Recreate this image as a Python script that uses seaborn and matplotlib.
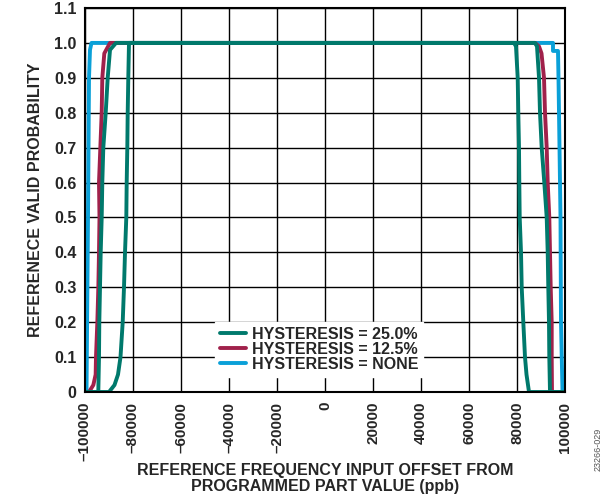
import numpy as np
import pandas as pd
import matplotlib
matplotlib.use("Agg")
import matplotlib.pyplot as plt
import seaborn as sns

# ---- data (offset in ppb, probability) ----
teal_up_x = [-100000, -90000, -87710, -86250, -85210, -84290, -83750, -83330,
             -82790, -82630, -82370, -82210, -81960, -81670,
             87500, 88330, 89170, 89580, 90290, 91375, 92375, 92790, 93040,
             93330, 93460, 93750, 100000]
teal_up_y = [0, 0, 0.02, 0.05, 0.1, 0.2, 0.3, 0.4, 0.5, 0.6, 0.7, 0.8, 0.9, 1.0,
             1.0, 0.99, 0.9, 0.8, 0.7, 0.6, 0.5, 0.4, 0.3, 0.2, 0.1, 0, 0]

teal_down_x = [100000, 85000, 83960, 83330, 82630, 81960, 81670, 81125, 80960,
               80830, 80540, 80290, 79580, 78750,
               -87080, -89580, -90540, -91370, -92370, -92790, -93040, -93460,
               -93750, -94040, -94170, -94460, -100000]
teal_down_y = [0, 0, 0.05, 0.1, 0.2, 0.3, 0.4, 0.5, 0.6, 0.7, 0.8, 0.9, 0.99, 1.0,
               1.0, 0.98, 0.9, 0.8, 0.7, 0.6, 0.5, 0.4, 0.3, 0.2, 0.1, 0, 0]

red_x = [-100000, -98330, -96530, -95560, -95420, -94860, -94440, -94170,
         -93960, -94170, -93610, -93040, -92790, -91950, -89580,
         87500, 89170, 90210, 91250, 91670, 92375, 92790, 93460, 93750,
         94040, 94460, 94460, 94580, 100000]
red_y = [0, 0, 0.02, 0.05, 0.1, 0.2, 0.3, 0.4, 0.5, 0.6, 0.7, 0.8, 0.9, 0.97, 1.0,
         1.0, 0.99, 0.97, 0.9, 0.8, 0.7, 0.6, 0.5, 0.4, 0.3, 0.2, 0.1, 0, 0]

blue_x = [-100000, -99375, -98750, -98330, -97920, -97290,
          95000, 95000, 97080, 97290, 97710, 98125, 98330, 98960, 100000]
blue_y = [0, 0, 0.5, 0.9, 0.98, 1.0,
          1.0, 0.977, 0.977, 0.9, 0.7, 0.5, 0.2, 0, 0]

labels = ["HYSTERESIS = 25.0%", "HYSTERESIS = 12.5%", "HYSTERESIS = NONE"]
colors = ["#00796C", "#A0214B", "#0AA0D8"]

x_ticks = list(range(-100000, 100001, 20000))
y_ticks = [0, 0.1, 0.2, 0.3, 0.4, 0.5, 0.6, 0.7, 0.8, 0.9, 1.0, 1.1]
y_ticklabels = ["0", "0.1", "0.2", "0.3", "0.4", "0.5", "0.6", "0.7", "0.8",
                "0.9", "1.0", "1.1"]

# ---- one long table, one unit per sweep ----
frames = [
    pd.DataFrame({"x": blue_x, "y": blue_y, "series": labels[2], "unit": "blue"}),
    pd.DataFrame({"x": red_x, "y": red_y, "series": labels[1], "unit": "red"}),
    pd.DataFrame({"x": teal_up_x, "y": teal_up_y, "series": labels[0], "unit": "teal_up"}),
    pd.DataFrame({"x": teal_down_x, "y": teal_down_y, "series": labels[0], "unit": "teal_down"}),
]
df = pd.concat(frames, ignore_index=True)

sns.set_style("white")
plt.rcParams["font.family"] = ["Liberation Sans", "DejaVu Sans"]
plt.rcParams["font.weight"] = "bold"

fig = plt.figure(figsize=(6.13, 5.01), dpi=100)
ax = fig.add_axes([85 / 613, 1 - 392 / 501, 480 / 613, 384 / 501])

# draw blue first, teal last so teal sits on top
for lab, col in [(labels[2], colors[2]), (labels[1], colors[1]), (labels[0], colors[0])]:
    sub = df[df["series"] == lab]
    sns.lineplot(data=sub, x="x", y="y", units="unit", estimator=None, sort=False,
                 color=col, linewidth=2.8, ax=ax, legend=False)

ax.set_xlim(-100000, 100000)
ax.set_ylim(0, 1.1)
ax.set_xticks(x_ticks)
ax.set_xticklabels([str(v).replace("-", "\u2013") for v in x_ticks],
                   rotation=90, va="top", ha="center", fontsize=11, fontweight="bold")
ax.set_yticks(y_ticks)
ax.set_yticklabels(y_ticklabels, fontsize=11.5, fontweight="bold")
ax.tick_params(length=0, pad=6)
ax.tick_params(axis="x", pad=7)

ax.grid(True, color="black", linewidth=1.0)
ax.set_axisbelow(True)
for s in ax.spines.values():
    s.set_color("black")
    s.set_linewidth(1.5)

ax.set_xlabel("REFERENCE FREQUENCY INPUT OFFSET FROM\nPROGRAMMED PART VALUE (ppb)",
              fontsize=11.5, fontweight="bold", linespacing=1.1, labelpad=1)
ax.set_ylabel("REFERENECE VALID PROBABILITY", fontsize=11.5, fontweight="bold",
              labelpad=8)

handles = [plt.Line2D([], [], color=c, linewidth=2.8) for c in colors]
leg = ax.legend(handles, labels, loc="lower center", bbox_to_anchor=(0.4885, 0.04),
                frameon=True, fancybox=False, framealpha=1, edgecolor="white",
                fontsize=11.5, handlelength=1.6, handletextpad=0.4,
                labelspacing=0.0, borderpad=0.3, borderaxespad=0)
for t in leg.get_texts():
    t.set_fontweight("bold")

fig.text(0.975, 0.06, "23266-029", rotation=90, fontsize=6.5, color="#555555",
         fontweight="normal", ha="center", va="bottom")

fig.savefig("out.png", dpi=100)
